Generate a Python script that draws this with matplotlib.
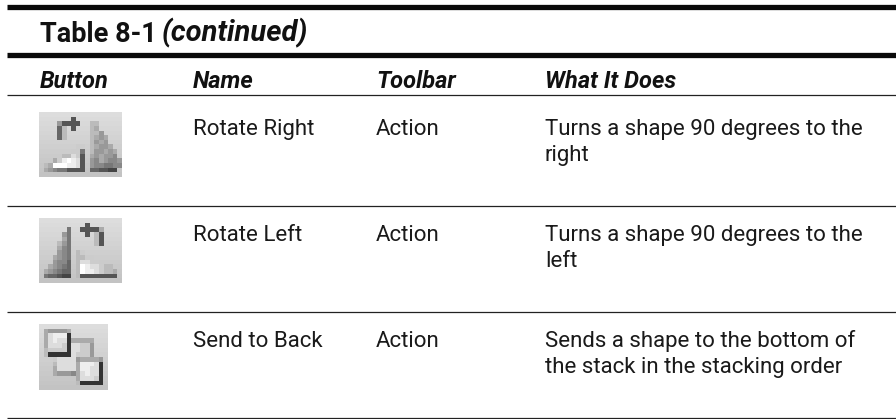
import matplotlib
matplotlib.use("Agg")
import matplotlib.pyplot as plt
import numpy as np

W, H = 896, 419
plt.rcParams['font.family'] = ['Roboto', 'Liberation Sans', 'DejaVu Sans']

title = "Table 8-1"
title_cont = "(continued)"
headers = ["Button", "Name", "Toolbar", "What It Does"]
names = ["Rotate Right", "Rotate Left", "Send to Back"]
toolbars = ["Action", "Action", "Action"]
does = [["Turns a shape 90 degrees to the", "right"],
        ["Turns a shape 90 degrees to the", "left"],
        ["Sends a shape to the bottom of", "the stack in the stacking order"]]

icon_rotate_right = [
    "", ".......5", "....95555..bb", "....6b.5...ba", "....6b.....bb9",
    "....6b.....ba9a", "...........b9a9", "........cc.ba99a",
    ".......cc7.b99a9a", ".....bbdc5.a9a998", "...acefed5.98a9889",
    ".bafffeed5.9887788", ".a98775555.665544", "",
]
icon_rotate_left = [
    "", "..........5", "......7..5555a", ".....97...5.b5", ".....a7.....b5",
    "....b97.....b5", "....a87", "....987.bc", "...a987.bbcc", "...9886.bddcc",
    "..a9876.bfeddcbb", ".a98766.bfeedcbba", ".766544.b55555555", "",
]
icon_send_back = [
    "", ".a9999a", ".adeee3", ".adedd3aaaaa", ".adddc3ddcc9", ".bcccc3ddcc9",
    ".b33333dccc9", "...cdddd9aaaa9", "...bddddaeeed3", "...addddaeedd3",
    "...a9998adedd3", "........adddc3", "........b33333", "",
]

col_x = [40, 193, 376, 545]
row_base = [135, 241, 347]
line_gap = 26
rule_thick = [7, 55.5]
rule_thin = [95.5, 205.5, 311.5, 417.5]
icon_boxes = [(39, 112, 83, 65), (39, 218, 83, 65), (39, 325, 69, 65)]
icons = [icon_rotate_right, icon_rotate_left, icon_send_back]
icon_cols = [18, 18, 15]


def icon_image(rows, ncols):
    img = np.tile(np.linspace(0.865, 0.765, len(rows))[:, None], (1, ncols))
    for r, row in enumerate(rows):
        for c, ch in enumerate(row):
            if ch != ".":
                img[r, c] = int(ch, 16) / 15
    return img


fig = plt.figure(figsize=(W/100, H/100), dpi=100, facecolor="white")
ax = fig.add_axes([0, 0, 1, 1])
ax.axis("off")

for y in rule_thick:
    ax.plot([7, W], [y, y], color="#0a0a0a", lw=3.8, solid_capstyle="butt")
for y in rule_thin:
    ax.plot([7, W], [y, y], color="#222222", lw=0.9, solid_capstyle="butt")

tc = "#111111"
ax.text(col_x[0], 41.5, title, fontsize=19.5, fontweight="bold", va="baseline", color=tc)
ax.text(162, 41.5, title_cont, fontsize=21, fontweight="bold", style="italic", va="baseline", color=tc)
for x, h in zip(col_x, headers):
    ax.text(x, 88, h, fontsize=17, fontweight="bold", style="italic", va="baseline", color=tc)
for i, y in enumerate(row_base):
    ax.text(col_x[1], y, names[i], fontsize=16, va="baseline", color="#1a1a1a")
    ax.text(col_x[2], y, toolbars[i], fontsize=16, va="baseline", color="#1a1a1a")
    for j, line in enumerate(does[i]):
        ax.text(col_x[3], y + j*line_gap, line, fontsize=16, va="baseline", color="#1a1a1a")

for (x, y, w, h), rows, nc in zip(icon_boxes, icons, icon_cols):
    ax.imshow(icon_image(rows, nc), extent=(x, x+w, y+h, y), cmap="gray", vmin=0, vmax=1,
              aspect="auto", interpolation="nearest")
ax.set_xlim(0, W)
ax.set_ylim(H, 0)
fig.savefig("out.png", dpi=100)
